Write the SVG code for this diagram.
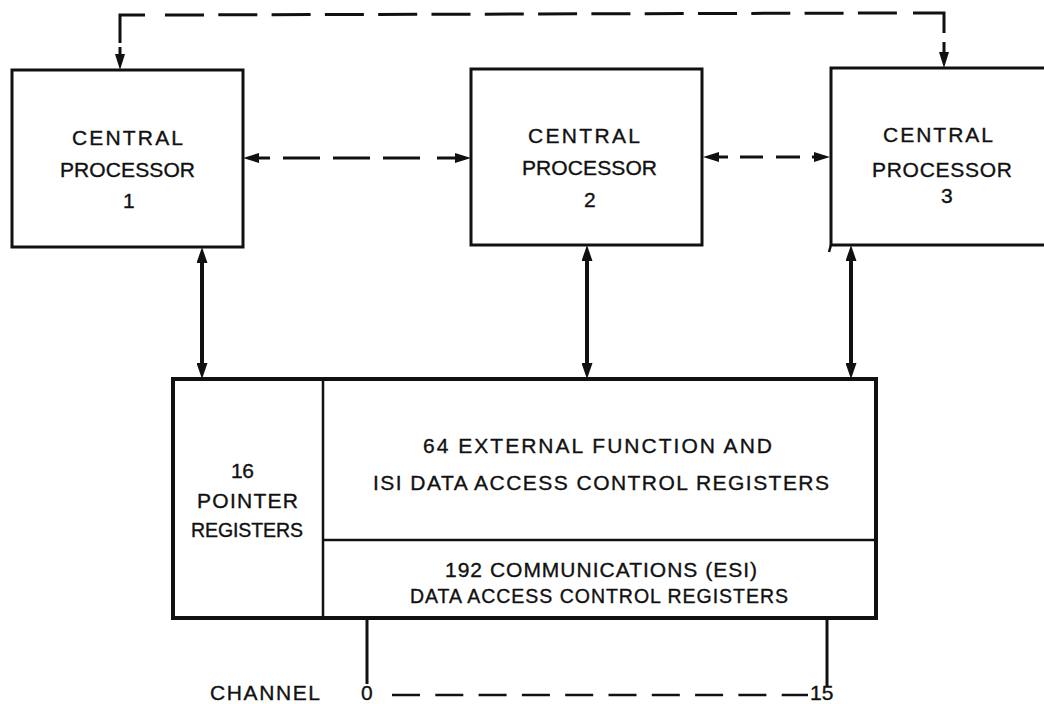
<svg xmlns="http://www.w3.org/2000/svg" width="1044" height="704" viewBox="0 0 1044 704">
  <style>
    .box { fill: #fff; stroke: #111; stroke-width: 3; }
    .div { fill: none; stroke: #111; stroke-width: 2.5; }
    .lbl { font-family: "Liberation Sans", Arial, Helvetica, sans-serif; font-size: 21px; fill: #111; stroke: #111; stroke-width: 0.35; }
    .narrow { font-size: 19.5px; }
    .thick { stroke: #111; stroke-width: 4; fill: none; }
    .thin { stroke: #111; stroke-width: 3; fill: none; }
    .dash-top { stroke: #111; stroke-width: 3; fill: none; stroke-dasharray: 39 14.3; }
    .dash-chan { stroke: #111; stroke-width: 2.5; fill: none; stroke-dasharray: 28 15.3; }
  </style>
  <defs>
    <marker id="ah" viewBox="0 0 16 11" refX="8" refY="5.5" markerWidth="16" markerHeight="11" markerUnits="userSpaceOnUse" orient="auto-start-reverse">
      <path d="M0,0 L16,5.5 L0,11 z" fill="#111"/>
    </marker>
    <marker id="ahs" viewBox="0 0 16 10" refX="8" refY="5" markerWidth="16" markerHeight="10" markerUnits="userSpaceOnUse" orient="auto-start-reverse">
      <path d="M0,0 L16,5 L0,10 z" fill="#111"/>
    </marker>
  </defs>
  <rect x="0" y="0" width="1044" height="704" fill="#fff"/>

  <g id="cp1">
    <rect class="box" x="12" y="70" width="231" height="177"/>
    <text class="lbl" x="72" y="145" textLength="111" lengthAdjust="spacing">CENTRAL</text>
    <text class="lbl" x="60" y="177" textLength="135" lengthAdjust="spacing">PROCESSOR</text>
    <text class="lbl" x="123" y="208">1</text>
  </g>

  <g id="cp2">
    <rect class="box" x="471" y="69" width="231" height="176"/>
    <text class="lbl" x="528" y="143" textLength="112" lengthAdjust="spacing">CENTRAL</text>
    <text class="lbl" x="522" y="175" textLength="135" lengthAdjust="spacing">PROCESSOR</text>
    <text class="lbl" x="584" y="207">2</text>
  </g>

  <g id="cp3">
    <rect class="box" x="831" y="68" width="240" height="177"/>
    <line class="div" x1="831" y1="245" x2="829" y2="252"/>
    <text class="lbl" x="883" y="142" textLength="110" lengthAdjust="spacing">CENTRAL</text>
    <text class="lbl" x="872" y="177" textLength="140" lengthAdjust="spacing">PROCESSOR</text>
    <text class="lbl" x="941" y="203">3</text>
  </g>

  <g id="registers">
    <rect class="box" x="173" y="379" width="703" height="239" style="stroke-width:4"/>
    <line class="div" x1="323" y1="379" x2="323" y2="618"/>
    <line class="div" x1="323" y1="540" x2="876" y2="540"/>
    <text class="lbl" x="231" y="478" textLength="23" lengthAdjust="spacing">16</text>
    <text class="lbl" x="197" y="508" textLength="101" lengthAdjust="spacing">POINTER</text>
    <text class="lbl narrow" x="191" y="537" textLength="112" lengthAdjust="spacing">REGISTERS</text>
    <text class="lbl" x="423" y="453" textLength="349" lengthAdjust="spacing">64 EXTERNAL FUNCTION AND</text>
    <text class="lbl" x="373" y="490" textLength="456" lengthAdjust="spacing">ISI DATA ACCESS CONTROL REGISTERS</text>
    <text class="lbl" x="445" y="577" textLength="312" lengthAdjust="spacing">192 COMMUNICATIONS (ESI)</text>
    <text class="lbl narrow" x="410" y="603" textLength="378" lengthAdjust="spacing">DATA ACCESS CONTROL REGISTERS</text>
  </g>

  <g id="channels">
    <text class="lbl" x="210" y="700" textLength="110" lengthAdjust="spacing">CHANNEL</text>
    <text class="lbl" x="361" y="700">0</text>
    <text class="lbl" x="810" y="700">15</text>
  </g>

  <g id="connectors">
    <polyline class="thin" points="120,43 120,15 145,15"/>
    <line class="dash-top" x1="165" y1="15" x2="897" y2="13"/>
    <polyline class="thin" points="913,13 944,13 944,33"/>
    <line class="thin" x1="120" y1="47" x2="120" y2="62" marker-end="url(#ahs)"/>
    <line class="thin" x1="944" y1="42" x2="944" y2="60" marker-end="url(#ahs)"/>

    <line class="thin" x1="270" y1="158" x2="251" y2="158" marker-end="url(#ahs)"/>
    <line class="thin" x1="283" y1="158" x2="420" y2="158" style="stroke-dasharray:37 13"/>
    <line class="thin" x1="437" y1="158" x2="463" y2="158" marker-end="url(#ahs)"/>

    <line class="thin" x1="728" y1="157" x2="711" y2="157" marker-end="url(#ahs)"/>
    <line class="thin" x1="740" y1="157" x2="763" y2="157"/>
    <line class="thin" x1="776" y1="157" x2="800" y2="157"/>
    <line class="thin" x1="812" y1="157" x2="822" y2="157" marker-end="url(#ahs)"/>

    <line class="thick" x1="202" y1="255" x2="202" y2="371" marker-start="url(#ah)" marker-end="url(#ah)"/>
    <line class="thick" x1="587" y1="253" x2="587" y2="371" marker-start="url(#ah)" marker-end="url(#ah)"/>
    <line class="thick" x1="851" y1="253" x2="851" y2="371" marker-start="url(#ah)" marker-end="url(#ah)"/>

    <line class="thin" x1="367" y1="618" x2="367" y2="684"/>
    <line class="thin" x1="827" y1="618" x2="827" y2="686"/>
    <line class="dash-chan" x1="392" y1="695" x2="808" y2="695"/>
  </g>
</svg>
